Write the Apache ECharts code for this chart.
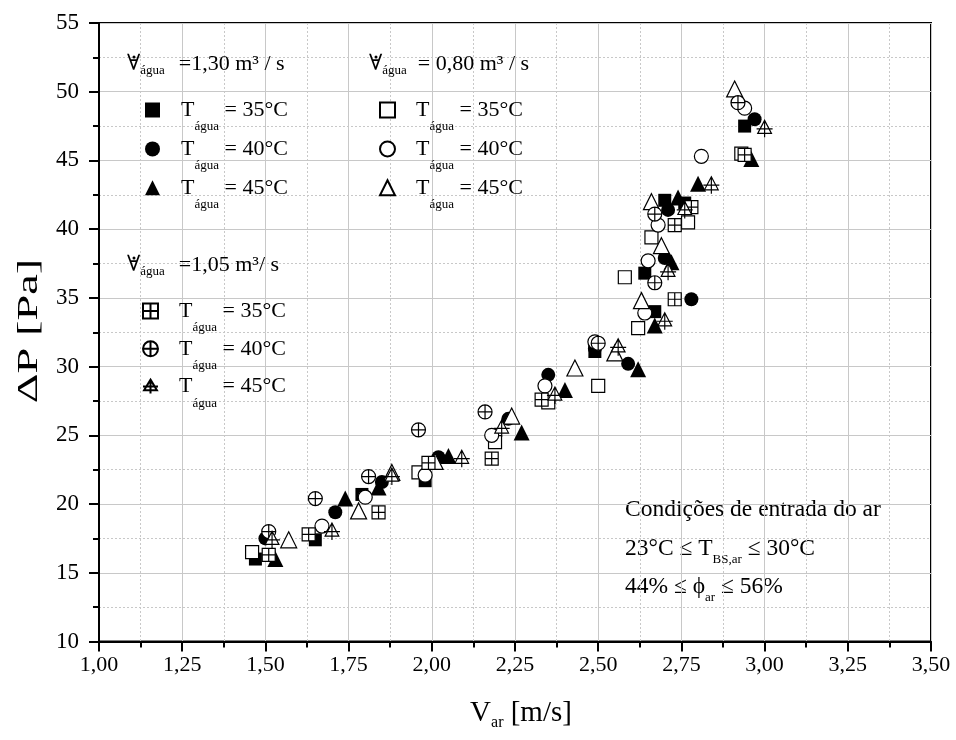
<!DOCTYPE html>
<html><head><meta charset="utf-8">
<script src="https://cdn.jsdelivr.net/npm/echarts@6/dist/echarts.min.js"></script>
<style>html,body{margin:0;padding:0;background:#fff}#c{width:956px;height:740px}</style>
</head><body><div id="c"></div>
<script>
const FONT = '"Liberation Serif","Times New Roman",serif';

// Flow 1,30 m3/s
const q130_T35 = [[1.47,16.0],[1.65,17.4],[1.79,20.7],[1.98,21.7],[2.49,31.1],[2.64,36.8],[2.67,34.0],[2.70,42.1],[2.76,41.9],[2.94,47.5]];
const q130_T40 = [[1.50,17.5],[1.71,19.4],[1.85,21.6],[2.02,23.4],[2.23,26.2],[2.35,29.4],[2.49,31.3],[2.59,30.2],[2.70,37.9],[2.71,41.4],[2.78,34.9],[2.97,48.0]];
const q130_T45 = [[1.53,16.0],[1.74,20.4],[1.84,21.2],[2.05,23.5],[2.27,25.2],[2.40,28.3],[2.62,29.8],[2.67,33.0],[2.72,37.6],[2.74,42.3],[2.80,43.3],[2.96,45.1]];
// Flow 0,80 m3/s
const q080_T35 = [[1.46,16.5],[1.96,22.3],[2.19,24.5],[2.35,27.4],[2.50,28.6],[2.58,36.5],[2.62,32.8],[2.66,39.4],[2.77,40.5],[2.93,45.5]];
const q080_T40 = [[1.67,18.4],[1.80,20.5],[1.98,22.1],[2.18,25.0],[2.34,28.6],[2.49,31.8],[2.64,33.9],[2.65,37.7],[2.68,40.3],[2.81,45.3],[2.94,48.8]];
const q080_T45 = [[1.57,17.4],[1.78,19.5],[1.88,22.3],[2.01,23.1],[2.24,26.4],[2.43,29.9],[2.55,31.0],[2.63,34.8],[2.66,42.0],[2.69,38.8],[2.91,50.2]];
// Flow 1,05 m3/s
const q105_T35 = [[1.51,16.3],[1.63,17.8],[1.84,19.4],[1.99,23.0],[2.18,23.3],[2.33,27.6],[2.73,34.9],[2.73,40.3],[2.78,41.6],[2.94,45.4]];
const q105_T40 = [[1.51,18.0],[1.65,20.4],[1.81,22.0],[1.96,25.4],[2.16,26.7],[2.50,31.7],[2.67,36.1],[2.67,41.1],[2.92,49.2]];
const q105_T45 = [[1.52,17.4],[1.70,18.0],[1.88,22.0],[2.09,23.3],[2.21,25.5],[2.37,27.9],[2.56,31.4],[2.70,33.3],[2.71,36.9],[2.76,41.4],[2.84,43.2],[3.00,47.3]];

const xTicks = [1.00,1.25,1.50,1.75,2.00,2.25,2.50,2.75,3.00,3.25,3.50];
const yTicks = [10,15,20,25,30,35,40,45,50,55];

const SQ_PLUS = 'path://M0,0 L10,0 L10,10 L0,10 Z M5,0 L5,10 M0,5 L10,5';
const CI_PLUS = 'path://M10,5 A5,5 0 1 1 0,5 A5,5 0 1 1 10,5 Z M5,0 L5,10 M0,5 L10,5';
const TR_PLUS = 'path://M6,0 L12,10 L0,10 Z M6,0 L6,13 M-1,6.5 L13,6.5';

const seriesDefs = [
  {name:'a35', data:q130_T35, symbol:'rect', size:13, fill:'#000'},
  {name:'a40', data:q130_T40, symbol:'circle', size:14, fill:'#000'},
  {name:'a45', data:q130_T45, symbol:'triangle', size:16, fill:'#000'},
  {name:'b35', data:q080_T35, symbol:'rect', size:13, fill:'#fff'},
  {name:'b40', data:q080_T40, symbol:'circle', size:14, fill:'#fff'},
  {name:'b45', data:q080_T45, symbol:'triangle', size:16, fill:'#fff'},
  {name:'c35', data:q105_T35, symbol:SQ_PLUS, size:13, fill:'#fff'},
  {name:'c40', data:q105_T40, symbol:CI_PLUS, size:14, fill:'#fff'},
  {name:'c45', data:q105_T45, symbol:TR_PLUS, size:[16,17], fill:'#fff'}
];

const rich = {
  t:{fontFamily:FONT,fontSize:22,color:'#000',lineHeight:46,verticalAlign:'middle'},
  s:{fontFamily:FONT,fontSize:13,color:'#000',lineHeight:14,verticalAlign:'bottom'}
};
function legendFmt(name){
  return '{t|T}{s|água}{t| = ' + name.slice(1) + '°C}';
}
function legendFor(names, left, top, gap){
  return {
    orient:'vertical', left:left, top:top, itemGap:gap,
    itemWidth:15, itemHeight:15, padding:0,
    data:names, formatter:legendFmt,
    textStyle:{rich:rich, padding:[0,0,0,16]},
    selectedMode:false
  };
}

function header(x, y, txt, pad){
  const hr = {
    v:{fontFamily:'"DejaVu Serif",serif',fontSize:22,color:'#000',lineHeight:26,verticalAlign:'middle'},
    s:{fontFamily:FONT,fontSize:13,color:'#000',lineHeight:14,verticalAlign:'bottom'},
    t:{fontFamily:FONT,fontSize:22,color:'#000',lineHeight:26,verticalAlign:'middle',padding:[0,0,0,pad]}
  };
  return [
    {type:'text', left:x, top:y, style:{text:'{v|∀}{s|água}{t|' + txt + '}', rich:hr}, z:10},
    {type:'circle', shape:{cx:x+7, cy:y+4, r:1.5}, style:{fill:'#000'}, z:10}
  ];
}
const annRich = {
  t:{fontFamily:FONT,fontSize:23.5,color:'#000',lineHeight:34,verticalAlign:'middle'},
  s:{fontFamily:FONT,fontSize:13,color:'#000',lineHeight:14,verticalAlign:'bottom'}
};

const chart = echarts.init(document.getElementById('c'), null, {renderer:'canvas'});
chart.setOption({
  animation:false,
  backgroundColor:'#fff',
  grid:{left:99, right:25, top:23, bottom:98.5, show:true, borderColor:'#000', borderWidth:2, backgroundColor:'transparent'},
  xAxis:{
    type:'value', min:1, max:3.5, interval:0.25,
    name:'{t|V}{s|ar}{t| [m/s]}', nameLocation:'middle', nameGap:55,
    nameTextStyle:{rich:{
      t:{fontFamily:FONT,fontSize:29,color:'#000',lineHeight:34,verticalAlign:'middle'},
      s:{fontFamily:FONT,fontSize:16,color:'#000',lineHeight:18,verticalAlign:'bottom'}
    }, padding:[0,0,0,12]},
    axisLine:{show:true,onZero:false,lineStyle:{color:'#000',width:2}},
    axisTick:{show:true,inside:false,length:10,lineStyle:{color:'#000',width:2}},
    minorTick:{show:true,splitNumber:2,length:6,lineStyle:{color:'#000',width:2}},
    axisLabel:{fontFamily:FONT,fontSize:22,color:'#000',margin:13,
      formatter:v=>{const m = xTicks.find(t=>Math.abs(t-v)<1e-6); return m===undefined?'':m.toFixed(2).replace('.',',');}},
    splitLine:{show:true,lineStyle:{color:'#c8c8c8',width:1}},
    minorSplitLine:{show:true,lineStyle:{color:'#c8c8c8',width:1,type:[2,2]}}
  },
  yAxis:{
    type:'value', min:10, max:55, interval:5,
    axisLine:{show:true,onZero:false,lineStyle:{color:'#000',width:2}},
    axisTick:{show:true,inside:false,length:10,lineStyle:{color:'#000',width:2}},
    minorTick:{show:true,splitNumber:2,length:6,lineStyle:{color:'#000',width:2}},
    axisLabel:{fontFamily:FONT,fontSize:23,color:'#000',margin:20,
      formatter:v=>{const m = yTicks.find(t=>Math.abs(t-v)<1e-6); return m===undefined?'':String(m);}},
    splitLine:{show:true,lineStyle:{color:'#c8c8c8',width:1}},
    minorSplitLine:{show:true,lineStyle:{color:'#c8c8c8',width:1,type:[2,2]}}
  },
  legend:[
    legendFor(['a35','a40','a45'], 145, 99, 4.9),
    legendFor(['b35','b40','b45'], 379, 99, 4.9),
    legendFor(['c35','c40','c45'], 142, 300, 3.8)
  ],
  graphic:[
    {type:'text', x:29, y:331, rotation:Math.PI/2, scaleX:1.6, scaleY:1,
     style:{text:'ΔP [Pa]', fontFamily:FONT, fontSize:29, fill:'#000', align:'center', verticalAlign:'middle'}, z:10},
    ...header(127, 53, '=1,30 m³ / s', 14),
    ...header(369, 53, '= 0,80 m³ / s', 11),
    ...header(127, 254, '=1,05 m³/ s', 14),
    {type:'text', left:625, top:498, style:{text:'{t|Condições de entrada do ar}', rich:annRich}},
    {type:'text', left:625, top:537, style:{text:'{t|23°C ≤ T}{s|BS,ar}{t| ≤ 30°C}', rich:annRich}},
    {type:'text', left:625, top:575, style:{text:'{t|44% ≤ ϕ}{s|ar}{t| ≤ 56%}', rich:annRich}}
  ],
  series: seriesDefs.map(d=>({
    name:d.name, type:'scatter', data:d.data, symbol:d.symbol, symbolSize:d.size,
    itemStyle:{color:d.fill, borderColor:'#000', borderWidth:d.fill==='#000'?0:1.2, opacity:1},
    emphasis:{disabled:true}
  }))
});
</script></body></html>
